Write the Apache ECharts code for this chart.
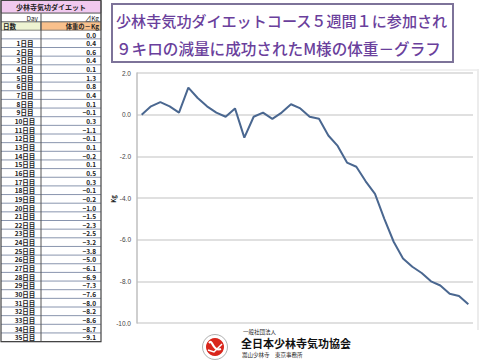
<!DOCTYPE html>
<html><head><meta charset="utf-8">
<script src="https://cdn.jsdelivr.net/npm/echarts@6/dist/echarts.min.js"></script>
<style>html,body{margin:0;padding:0;background:#fff}#c{width:480px;height:363px}</style>
</head><body><div id="c"></div>
<script>
const dayLabels = ["", "1日目","2日目","3日目","4日目","5日目","6日目","7日目","8日目","9日目","10日目","11日目","12日目","13日目","14日目","15日目","16日目","17日目","18日目","19日目","20日目","21日目","22日目","23日目","24日目","25日目","26日目","27日目","28日目","29日目","30日目","31日目","32日目","33日目","34日目","35日目"];
const weightChange = [0.0,0.4,0.6,0.4,0.1,1.3,0.8,0.4,0.1,-0.1,0.3,-1.1,-0.1,0.1,-0.2,0.1,0.5,0.3,-0.1,-0.2,-1.0,-1.5,-2.3,-2.5,-3.2,-3.8,-5.0,-6.1,-6.9,-7.3,-7.6,-8.0,-8.2,-8.6,-8.7,-9.1];
const tableTitle = "少林寺気功ダイエット";
const headerDay = "Day";
const headerKg = "⊿Kg";
const headerCol1 = "日数";
const headerCol2 = "体重の－Kg";
const titleLine1 = "少林寺気功ダイエットコース５週間１に参加され";
const titleLine2 = "９キロの減量に成功されたM様の体重－グラフ";
const yAxisName = "Kg";
const orgSmall = "一般社団法人";
const orgName = "全日本少林寺気功協会";
const orgSub = "嵩山少林寺　東京事務所";

const FONT = "'Noto Sans CJK JP', sans-serif";
const chart = echarts.init(document.getElementById('c'), null, {renderer: 'svg'});

const rowH = 8.65, row0Top = 30.2, colX = 41, tblL = 1, tblR = 101;
const g = [];
g.push({type:'rect', shape:{x:tblL, y:0.5, width:tblR-tblL, height:12.7}, style:{fill:'#f1c9ef', stroke:'#555', lineWidth:1}});
g.push({type:'text', style:{text:tableTitle, x:51, y:6.8, align:'center', verticalAlign:'middle', font:'bold 7px '+FONT, fill:'#222'}});
g.push({type:'rect', shape:{x:tblL, y:13.2, width:tblR-tblL, height:8.7}, style:{fill:'#fff', stroke:'#666', lineWidth:0.8}});
g.push({type:'text', style:{text:headerDay, x:38, y:17.6, align:'right', verticalAlign:'middle', font:'6.5px '+FONT, fill:'#222'}});
g.push({type:'text', style:{text:headerKg, x:99, y:17.6, align:'right', verticalAlign:'middle', font:'6.5px '+FONT, fill:'#222'}});
g.push({type:'rect', shape:{x:tblL, y:21.9, width:colX-tblL, height:8.3}, style:{fill:'#eef3d2', stroke:'#666', lineWidth:0.8}});
g.push({type:'rect', shape:{x:colX, y:21.9, width:tblR-colX, height:8.3}, style:{fill:'#f9c08c', stroke:'#666', lineWidth:0.8}});
g.push({type:'text', style:{text:headerCol1, x:3, y:26.1, align:'left', verticalAlign:'middle', font:'bold 6.5px '+FONT, fill:'#222'}});
g.push({type:'text', style:{text:headerCol2, x:99, y:26.1, align:'right', verticalAlign:'middle', font:'bold 6.3px '+FONT, fill:'#222'}});
const nRows = weightChange.length;
for (let i = 0; i < nRows; i++) {
  const top = row0Top + i*rowH, cy = top + rowH/2;
  g.push({type:'line', shape:{x1:tblL, y1:top+rowH, x2:tblR, y2:top+rowH}, style:{stroke:'#6b7a99', lineWidth:0.8}});
  g.push({type:'text', style:{text:dayLabels[i], x:25, y:cy, align:'center', verticalAlign:'middle', font:'bold 6.5px '+FONT, fill:'#222'}});
  g.push({type:'text', style:{text:weightChange[i].toFixed(1).replace('-', '−'), x:96, y:cy, align:'right', verticalAlign:'middle', font:'bold 6.5px '+FONT, fill:'#222'}});
}
const tblBottom = row0Top + nRows*rowH;
g.push({type:'line', shape:{x1:colX, y1:13.2, x2:colX, y2:tblBottom}, style:{stroke:'#555', lineWidth:1}});
g.push({type:'rect', shape:{x:tblL, y:0.5, width:tblR-tblL, height:tblBottom-0.5}, style:{fill:'none', stroke:'#444', lineWidth:1.2}});

g.push({type:'rect', shape:{x:112, y:4, width:341, height:58}, style:{fill:'#fff', stroke:'#7d7399', lineWidth:2}});
g.push({type:'text', style:{text:titleLine1, x:116, y:20, align:'left', verticalAlign:'middle', font:'500 15.1px '+FONT, fill:'#6a3f9c'}});
g.push({type:'text', style:{text:titleLine2, x:116, y:48, align:'left', verticalAlign:'middle', font:'500 15.6px '+FONT, fill:'#6a3f9c'}});

g.push({type:'line', shape:{x1:478, y1:69, x2:478, y2:330}, style:{stroke:'#d9d9d9', lineWidth:1}});
g.push({type:'line', shape:{x1:400, y1:70, x2:477, y2:70}, style:{stroke:'#e2e2e2', lineWidth:1}});

// y-axis title
g.push({type:'text', x:113, y:199, rotation:Math.PI/2, style:{text:yAxisName, x:0, y:0, align:'center', verticalAlign:'middle', font:'bold 6px '+FONT, fill:'#222'}});

g.push({type:'circle', shape:{cx:215, cy:347, r:12.5}, style:{fill:'#fff', stroke:'#b0b0b0', lineWidth:1}});
g.push({type:'circle', shape:{cx:215, cy:347, r:9}, style:{fill:'#d9261c'}});
g.push({type:'bezierCurve', shape:{x1:209, y1:343, cpx1:213, cpy1:338, cpx2:212, cpy2:352, x2:221, y2:349}, style:{stroke:'#fff', lineWidth:2.2, fill:null}});
g.push({type:'polyline', shape:{points:[[208,350],[214,352],[222,344]]}, style:{stroke:'#fff', lineWidth:1.5, fill:null}});
g.push({type:'text', style:{text:orgSmall, x:243, y:331.5, align:'left', verticalAlign:'middle', font:'5.5px '+FONT, fill:'#222'}});
g.push({type:'text', style:{text:orgName, x:241, y:343, align:'left', verticalAlign:'middle', font:'bold 11px '+FONT, fill:'#111'}});
g.push({type:'text', style:{text:orgSub, x:242, y:355, align:'left', verticalAlign:'middle', font:'5.5px '+FONT, fill:'#222'}});

chart.setOption({
  animation: false,
  backgroundColor: '#fff',
  grid: {left: 137, top: 73, width: 336, height: 250, containLabel: false},
  xAxis: {
    type: 'category', data: dayLabels, boundaryGap: true,
    axisLine: {show: false}, axisTick: {show: false}, axisLabel: {show: false}, splitLine: {show: false}
  },
  yAxis: {
    type: 'value', min: -10, max: 2, interval: 2,
    axisLine: {show: true, lineStyle: {color: '#bfbfbf', width: 1.5}},
    axisTick: {show: false},
    axisLabel: {fontSize: 6.5, color: '#444', margin: 6, formatter: v => v.toFixed(1), fontFamily: 'Liberation Sans, Arial'},
    splitLine: {show: true, lineStyle: {color: '#d6d6d6', width: 1.5}}
  },
  series: [{
    type: 'line', data: weightChange, showSymbol: false, symbol: 'none',
    lineStyle: {color: '#4a6790', width: 2}
  }],
  graphic: {elements: g}
});
</script></body></html>
